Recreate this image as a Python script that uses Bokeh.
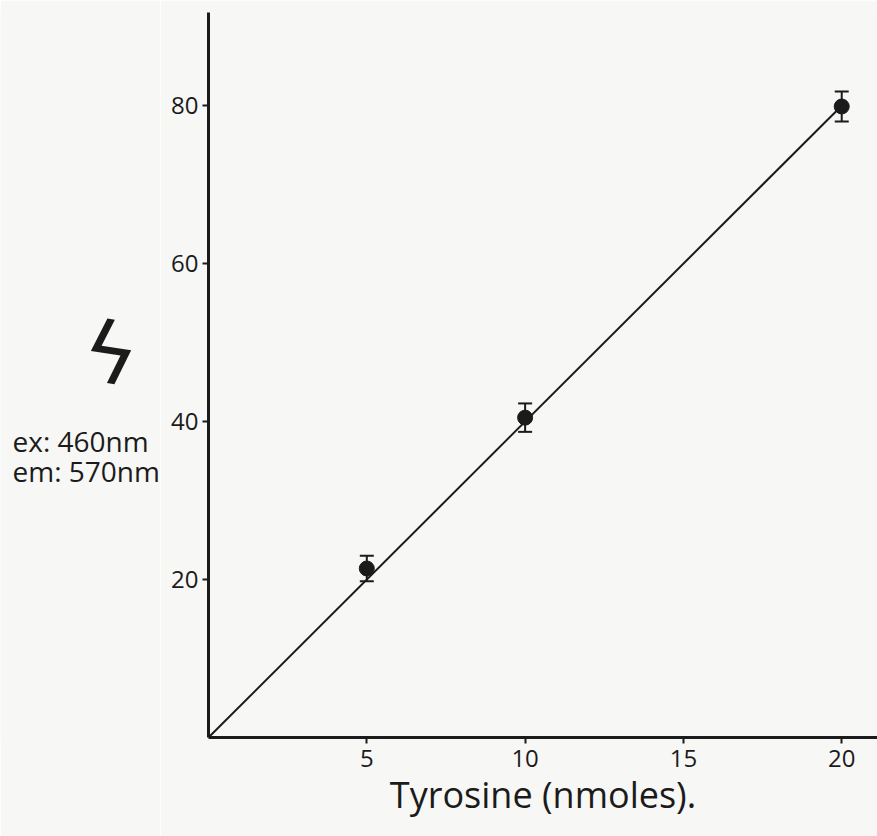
from bokeh.plotting import figure
from bokeh.layouts import row
from bokeh.models import Range1d, FixedTicker, Whisker, ColumnDataSource, TeeHead
from bokeh.core.properties import value
from bokeh.embed import file_html
from bokeh.resources import INLINE

# Tyrosine standard curve (fluorescence vs nmoles)
tyrosine = [5, 10, 20]
fluorescence = [21.4, 40.5, 79.9]
error = [1.6, 1.8, 1.9]
fit_x = [0, 20]
fit_slope = 4.0
x_ticks = [5, 10, 15, 20]
y_ticks = [20, 40, 60, 80]
caption_lines = ["ex: 460nm", "em: 570nm"]

paper = "#f7f7f5"
ink = "#1b1b1b"
font = "Open Sans"
H = 836
CAP_W = 160

# --- caption panel to the left of the y axis ---
cap = figure(width=CAP_W, height=H, output_backend="svg", toolbar_location=None,
             x_range=Range1d(0, CAP_W), y_range=Range1d(H, 0),
             min_border=0, x_axis_location=None, y_axis_location=None)
cap.grid.visible = False
cap.outline_line_color = None
cap.background_fill_color = paper
cap.border_fill_color = paper
cap.text(x=[110], y=[394], text=["ϟ"], text_font=value("DejaVu Sans"),
         text_font_size="84px", text_color=ink, text_align="center",
         text_baseline="middle", angle=-0.15)
cap.text(x=[12, 12], y=[494, 529], text=caption_lines, text_font=value(font),
         text_font_size="28px", text_color=ink, text_baseline="alphabetic")

# --- main plot ---
p = figure(width=877 - CAP_W, height=H, output_backend="svg", toolbar_location=None,
           x_range=Range1d(0, 21.13), y_range=Range1d(0, 91.8),
           min_border_left=208 - CAP_W, min_border_right=0, min_border_top=12,
           min_border_bottom=99)
p.background_fill_color = paper
p.border_fill_color = paper
p.outline_line_color = None
p.grid.visible = False

for ax in (p.xaxis[0], p.yaxis[0]):
    ax.axis_line_width = 3
    ax.axis_line_color = ink
    ax.major_tick_line_color = ink
    ax.major_tick_line_width = 2
    ax.minor_tick_line_color = None
    ax.major_tick_in = 0
    ax.major_tick_out = 6
    ax.major_label_text_font = font
    ax.major_label_text_font_size = "24px"
    ax.major_label_text_color = ink

p.xaxis.ticker = FixedTicker(ticks=x_ticks)
p.yaxis.ticker = FixedTicker(ticks=y_ticks)
p.xaxis.major_label_standoff = 6
p.yaxis.major_label_standoff = 4
p.xaxis.axis_label = "Tyrosine (nmoles)."
p.xaxis.axis_label_text_font = font
p.xaxis.axis_label_text_font_style = "normal"
p.xaxis.axis_label_text_font_size = "36px"
p.xaxis.axis_label_text_color = ink
p.xaxis.axis_label_standoff = 0

# fitted line through the origin
p.line(fit_x, [fit_slope * v for v in fit_x], line_color=ink, line_width=2)

src = ColumnDataSource(dict(x=tyrosine, y=fluorescence,
                            lo=[f - e for f, e in zip(fluorescence, error)],
                            hi=[f + e for f, e in zip(fluorescence, error)]))
p.add_layout(Whisker(source=src, base="x", lower="lo", upper="hi",
                     line_color=ink, line_width=2,
                     upper_head=TeeHead(size=14, line_color=ink, line_width=2),
                     lower_head=TeeHead(size=14, line_color=ink, line_width=2)))
p.scatter("x", "y", source=src, size=15, fill_color=ink, line_color=ink)

page = row(cap, p, spacing=0)
open("out.html", "w").write(file_html(page, INLINE))
